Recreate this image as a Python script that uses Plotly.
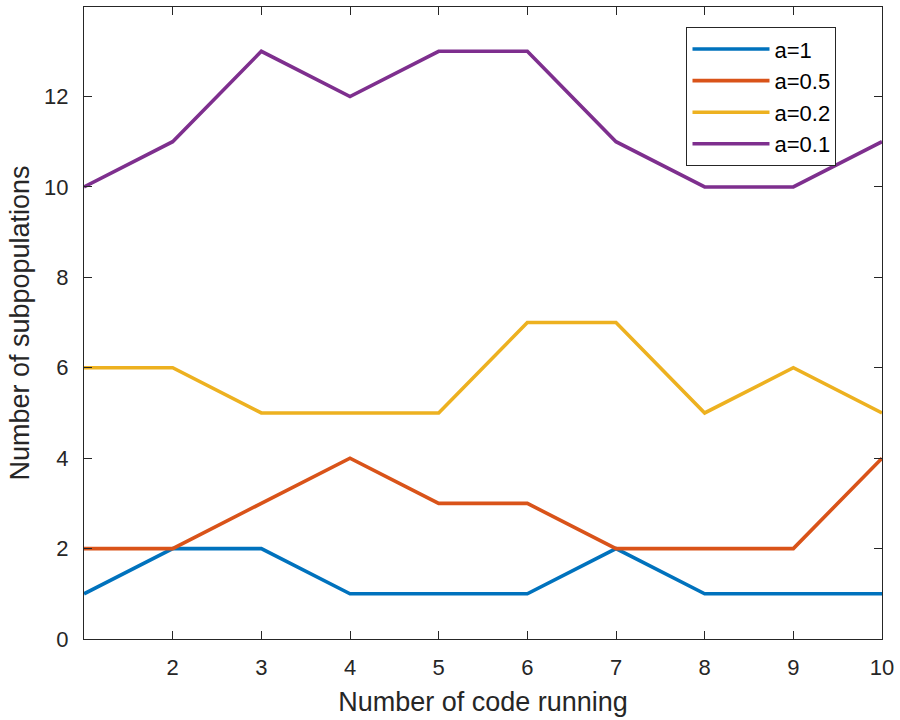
import plotly.graph_objects as go

runs = [1, 2, 3, 4, 5, 6, 7, 8, 9, 10]
a_1 = [1, 2, 2, 1, 1, 1, 2, 1, 1, 1]
a_05 = [2, 2, 3, 4, 3, 3, 2, 2, 2, 4]
a_02 = [6, 6, 5, 5, 5, 7, 7, 5, 6, 5]
a_01 = [10, 11, 13, 12, 13, 13, 11, 10, 10, 11]
names = ["a=1", "a=0.5", "a=0.2", "a=0.1"]
colors = ["#0072BD", "#D95319", "#EDB120", "#7E2F8E"]
xticks = [2, 3, 4, 5, 6, 7, 8, 9, 10]
yticks = [0, 2, 4, 6, 8, 10, 12]

fig = go.Figure()
for ys, nm, c in zip([a_1, a_05, a_02, a_01], names, colors):
    fig.add_trace(go.Scatter(x=runs, y=ys, mode="lines", name=nm,
                             line=dict(color=c, width=3.6)))

axis_common = dict(showline=True, linecolor="#262626", linewidth=1.2, mirror="ticks",
                   ticks="inside", ticklen=8, tickcolor="#262626", tickwidth=1.2,
                   showgrid=False, zeroline=False,
                   tickfont=dict(family="Liberation Sans, Arial", size=22, color="#262626"))

fig.update_layout(
    width=900, height=720,
    margin=dict(l=84, r=16, t=6, b=81),
    paper_bgcolor="white", plot_bgcolor="white",
    font=dict(family="Liberation Sans, Arial", color="#262626"),
    xaxis=dict(range=[1, 10], tickvals=xticks, ticklabelstandoff=8,
               title=dict(text="Number of code running", font=dict(size=27), standoff=13),
               **axis_common),
    yaxis=dict(range=[0, 13.98], tickvals=yticks, ticklabelstandoff=10,
               title=dict(text="Number of subpopulations", font=dict(size=27), standoff=6),
               **axis_common),
    legend=dict(x=0.755, y=0.968, xanchor="left", yanchor="top",
                bgcolor="white", bordercolor="#262626", borderwidth=1,
                font=dict(size=22, color="#000000"), itemwidth=77,
                tracegroupgap=0),
    showlegend=True,
)

fig.write_html("out.html")
